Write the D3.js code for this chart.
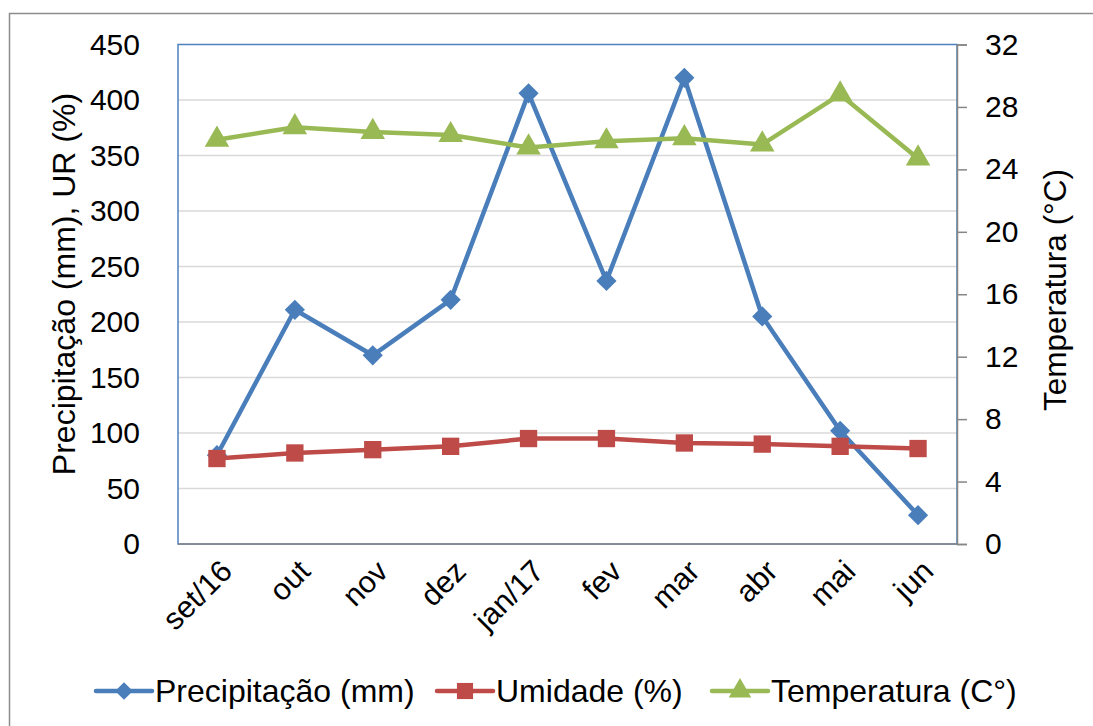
<!DOCTYPE html>
<html><head><meta charset="utf-8">
<script src="https://cdn.jsdelivr.net/npm/d3@7"></script>
<style>body{margin:0;background:#fff;} svg{display:block;font-family:"Liberation Sans",Arial,sans-serif;}</style>
</head><body>
<svg id="c" width="1093" height="726"></svg>
<script>
const categories = ["set/16","out","nov","dez","jan/17","fev","mar","abr","mai","jun"];
const precipitacao = [80, 211, 170, 220, 406, 237, 420, 205, 102, 26];
const umidade = [77, 82, 85, 88, 95, 95, 91, 90, 88, 86];
const temperatura = [25.9, 26.7, 26.4, 26.2, 25.4, 25.8, 26.0, 25.6, 28.8, 24.7];
const leftTicks = [0,50,100,150,200,250,300,350,400,450];
const rightTicks = [0,4,8,12,16,20,24,28,32];

const svg = d3.select("#c");
const L = 178, R = 957, T = 44.5, B = 544;
const x = d3.scaleBand().domain(categories).range([L, R]);
const yL = d3.scaleLinear().domain([0,450]).range([B, T]);
const yR = d3.scaleLinear().domain([0,32]).range([B, T]);
const cx = d => x(d) + x.bandwidth()/2;

svg.append("rect").attr("x",9.5).attr("y",13.5).attr("width",1100).attr("height",730)
  .attr("fill","none").attr("stroke","#8c8c8c").attr("stroke-width",1.5);

svg.append("g").selectAll("line").data(leftTicks.filter(t=>t>0 && t<450)).join("line")
  .attr("x1",L).attr("x2",R).attr("y1",d=>yL(d)).attr("y2",d=>yL(d))
  .attr("stroke","#d9d9d9").attr("stroke-width",1.5);

svg.append("rect").attr("x",L).attr("y",T).attr("width",R-L).attr("height",B-T)
  .attr("fill","none").attr("stroke","#4f81bd").attr("stroke-width",1.5);

svg.append("line").attr("x1",L).attr("x2",R).attr("y1",B).attr("y2",B).attr("stroke","#868686").attr("stroke-width",1.5);
const ra = svg.append("g").attr("transform",`translate(${R},0)`).call(d3.axisRight(yR).tickValues(rightTicks).tickSize(10).tickPadding(18));
ra.select(".domain").attr("stroke","#868686").attr("stroke-width",1.5);
ra.selectAll(".tick line").attr("stroke","#868686").attr("stroke-width",1.5);
ra.selectAll("text").attr("font-size",30).attr("font-family","Liberation Sans").attr("fill","#000");

const la = svg.append("g").attr("transform",`translate(${L},0)`).call(d3.axisLeft(yL).tickValues(leftTicks).tickSize(0).tickPadding(38));
la.select(".domain").remove();
la.selectAll("text").attr("font-size",30).attr("font-family","Liberation Sans").attr("fill","#000");

svg.append("g").selectAll("text").data(categories).join("text")
  .attr("transform",d=>`translate(${cx(d)+2},${B+14}) rotate(-45)`)
  .attr("text-anchor","end").attr("dy","0.7em").attr("font-size",30.5).text(d=>d);

svg.append("text").attr("transform",`translate(75,284) rotate(-90)`).attr("text-anchor","middle")
  .attr("font-size",32).text("Precipitação (mm), UR (%)");
svg.append("text").attr("transform",`translate(1066,290) rotate(-90)`).attr("text-anchor","middle")
  .attr("font-size",31.5).text("Temperatura (°C)");

const blue="#4a7ebb", red="#be4b48", green="#98b954";
const line = (yS) => d3.line().x((d,i)=>cx(categories[i])).y(d=>yS(d));

function series(vals, yS, color, sym, size){
  svg.append("path").attr("d",line(yS)(vals)).attr("fill","none").attr("stroke",color).attr("stroke-width",4.5).attr("stroke-linejoin","round");
  svg.append("g").selectAll("path").data(vals).join("path")
    .attr("transform",(d,i)=>`translate(${cx(categories[i])},${yS(d)})`)
    .attr("d",d3.symbol().type(sym).size(size)).attr("fill",color);
}
series(precipitacao, yL, blue, d3.symbolDiamond2, 260);
series(umidade, yL, red, d3.symbolSquare, 300);
series(temperatura, yR, green, d3.symbolTriangle, 260);

const legend = [["Precipitação (mm)",blue,d3.symbolDiamond2,200],["Umidade (%)",red,d3.symbolSquare,260],["Temperatura (C°)",green,d3.symbolTriangle,220]];
const lx = [96, 437, 712];
const ly = 691;
legend.forEach((l,i)=>{
  const g = svg.append("g");
  g.append("line").attr("x1",lx[i]).attr("x2",lx[i]+56).attr("y1",ly).attr("y2",ly).attr("stroke",l[1]).attr("stroke-width",4.5).attr("stroke-linecap","round");
  g.append("path").attr("transform",`translate(${lx[i]+28},${ly})`).attr("d",d3.symbol().type(l[2]).size(l[3])).attr("fill",l[1]);
  g.append("text").attr("x",lx[i]+59).attr("y",ly).attr("dy","0.35em").attr("font-size",32).text(l[0]);
});
</script>
</body></html>
